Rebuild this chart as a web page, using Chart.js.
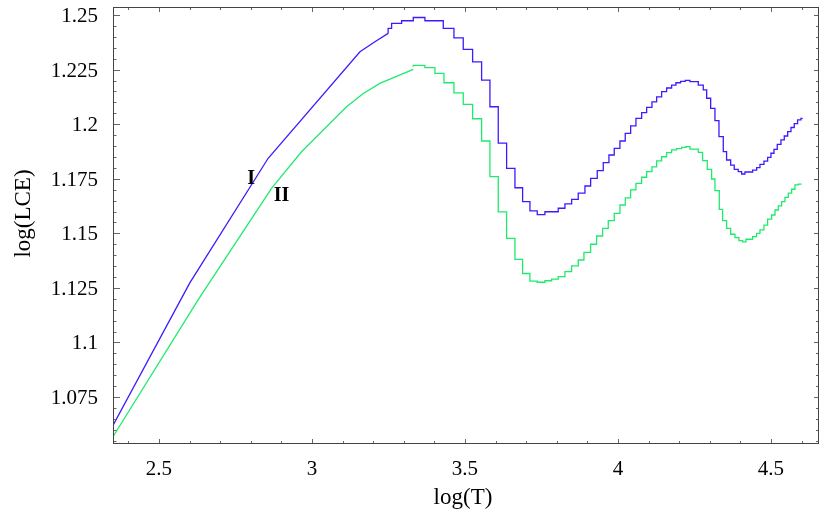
<!DOCTYPE html>
<html>
<head>
<meta charset="utf-8">
<script src="https://cdn.jsdelivr.net/npm/chart.js@4/dist/chart.umd.min.js"></script>
<style>
  html, body { margin: 0; padding: 0; background: #fff; }
</style>
</head>
<body>
<canvas id="lceChart" width="830" height="513"></canvas>
<script>
// curve I (blue): smooth start, then the staircase part
const curveISmoothX = [2.347, 2.601, 2.857, 3.157, 3.206, 3.249];
const curveISmoothY = [1.0612, 1.1273, 1.1844, 1.2332, 1.2378, 1.2416];
const curveIStepX = [3.249, 3.2604, 3.2931, 3.3312, 3.3693, 3.4292, 3.4641, 3.4945, 3.5251, 3.5545,
  3.5817, 3.6089, 3.6362, 3.6634, 3.6885, 3.7124, 3.7363, 3.7614, 3.8049, 3.8268,
  3.8487, 3.8703, 3.8922, 3.9108, 3.9324, 3.9520, 3.9706, 3.9879, 4.0065, 4.0238,
  4.0415, 4.0588, 4.0774, 4.0938, 4.1111, 4.1265, 4.1428, 4.1591, 4.1754, 4.1895,
  4.2049, 4.2200, 4.2353, 4.2625, 4.2788, 4.2899, 4.3030, 4.3170, 4.3301, 4.3442,
  4.3550, 4.3683, 4.3801, 4.3931, 4.4042, 4.4150, 4.4402, 4.4533, 4.4641, 4.4771,
  4.4892, 4.5000, 4.5098, 4.5206, 4.5327, 4.5435, 4.5546, 4.5654, 4.5761, 4.5870,
  4.5980, 4.6036];
const curveIStepY = [1.2416, 1.2439, 1.2462, 1.2474, 1.2489, 1.2474, 1.2439, 1.2396, 1.2343, 1.2286,
  1.2202, 1.2080, 1.1913, 1.1798, 1.1709, 1.1645, 1.1603, 1.1586, 1.1599, 1.1615,
  1.1635, 1.1656, 1.1684, 1.1717, 1.1752, 1.1787, 1.1824, 1.1859, 1.1889, 1.1923,
  1.1958, 1.1992, 1.2027, 1.2053, 1.2077, 1.2102, 1.2125, 1.2149, 1.2166, 1.2179,
  1.2190, 1.2196, 1.2201, 1.2195, 1.2179, 1.2157, 1.2119, 1.2073, 1.2016, 1.1943,
  1.1874, 1.1836, 1.1813, 1.1793, 1.1783, 1.1772, 1.1781, 1.1790, 1.1801, 1.1816,
  1.1831, 1.1848, 1.1867, 1.1885, 1.1908, 1.1928, 1.1946, 1.1966, 1.1985, 1.2003,
  1.2020, 1.2027];

// curve II (green)
const curveIISmoothX = [2.347, 2.628, 2.868, 2.966, 3.113, 3.168, 3.222, 3.331];
const curveIISmoothY = [1.0562, 1.1195, 1.1706, 1.1874, 1.2080, 1.2141, 1.2187, 1.2251];
const curveIIStepX = [3.331, 3.3693, 3.4020, 3.4314, 3.4641, 3.4945, 3.5251, 3.5545, 3.5817, 3.6089,
  3.6362, 3.6634, 3.6885, 3.7124, 3.7363, 3.7614, 3.7833, 3.8050, 3.8268, 3.8486,
  3.8704, 3.8889, 3.9107, 3.9303, 3.9499, 3.9684, 3.9880, 4.0065, 4.0240, 4.0414,
  4.0588, 4.0773, 4.0937, 4.1111, 4.1264, 4.1427, 4.1590, 4.1754, 4.1917, 4.2081,
  4.2222, 4.2353, 4.2625, 4.2767, 4.2919, 4.3061, 4.3170, 4.3312, 4.3420, 4.3551,
  4.3682, 4.3824, 4.3954, 4.4074, 4.4183, 4.4401, 4.4531, 4.4641, 4.4771, 4.4891,
  4.5022, 4.5131, 4.5240, 4.5349, 4.5458, 4.5567, 4.5675, 4.5784, 4.5893, 4.6002];
const curveIIStepY = [1.2263, 1.2270, 1.2259, 1.2233, 1.2190, 1.2144, 1.2091, 1.2025, 1.1923, 1.1760,
  1.1598, 1.1477, 1.1381, 1.1316, 1.1281, 1.1276, 1.1283, 1.1290, 1.1302, 1.1325,
  1.1351, 1.1378, 1.1413, 1.1450, 1.1488, 1.1523, 1.1558, 1.1592, 1.1630, 1.1663,
  1.1699, 1.1729, 1.1757, 1.1783, 1.1805, 1.1832, 1.1851, 1.1870, 1.1882, 1.1888,
  1.1894, 1.1897, 1.1886, 1.1871, 1.1833, 1.1793, 1.1749, 1.1696, 1.1610, 1.1558,
  1.1523, 1.1496, 1.1480, 1.1467, 1.1461, 1.1473, 1.1485, 1.1500, 1.1516, 1.1538,
  1.1565, 1.1584, 1.1607, 1.1626, 1.1645, 1.1665, 1.1684, 1.1702, 1.1722, 1.1726];

// curve labels, placed in data coordinates
const curveLabels = [
  { text: 'I', x: 2.801, y: 1.1750 },
  { text: 'II', x: 2.901, y: 1.1670 }
];

const BLUE = '#3a1cff';
const GREEN = '#1fea6c';
const SERIF = '"Liberation Serif", "Times New Roman", serif';

function pts(xs, ys) {
  return xs.map((x, i) => ({ x: x, y: ys[i] }));
}

const fmt = v => String(+v.toFixed(3));

// frame on all four sides with inward ticks, tick labels and titles
const framePlugin = {
  id: 'frame',
  afterDatasetsDraw(chart) {
    const { ctx, chartArea: a, scales: { x, y } } = chart;
    ctx.save();

    // axis titles first
    ctx.fillStyle = '#000';
    ctx.font = '23px ' + SERIF;
    ctx.textAlign = 'center';
    ctx.textBaseline = 'alphabetic';
    ctx.fillText('log(T)', 463, 504);
    ctx.save();
    ctx.translate(30, 213.5);
    ctx.rotate(-Math.PI / 2);
    ctx.fillText('log(LCE)', 0, 0);
    ctx.restore();

    ctx.strokeStyle = '#666';
    ctx.lineWidth = 1;
    ctx.beginPath();
    for (let k = Math.ceil(x.min / 0.1 - 1e-9); k * 0.1 <= x.max + 1e-9; k++) {
      const v = k * 0.1;
      const major = Math.abs(v / 0.5 - Math.round(v / 0.5)) < 1e-6;
      const len = major ? 5 : 3;
      const px = Math.round(x.getPixelForValue(v)) + 0.5;
      ctx.moveTo(px, a.bottom); ctx.lineTo(px, a.bottom - len);
      ctx.moveTo(px, a.top); ctx.lineTo(px, a.top + len);
    }
    for (let k = Math.ceil(y.min / 0.005 - 1e-9); k * 0.005 <= y.max + 1e-9; k++) {
      const v = k * 0.005;
      const major = Math.abs(v / 0.025 - Math.round(v / 0.025)) < 1e-6;
      const py = Math.round(y.getPixelForValue(v)) + 0.5;
      ctx.moveTo(a.left, py); ctx.lineTo(a.left + (major ? 7 : 3.5), py);
      ctx.moveTo(a.right, py); ctx.lineTo(a.right - (major ? 5 : 3), py);
    }
    ctx.stroke();
    ctx.strokeStyle = '#444';
    ctx.strokeRect(a.left + 0.5, a.top + 0.5, a.width - 1, a.height - 1);

    // tick labels
    ctx.font = '21px ' + SERIF;
    ctx.textAlign = 'center';
    x.ticks.forEach(t => {
      ctx.fillText(fmt(t.value), x.getPixelForValue(t.value), 475);
    });
    ctx.textAlign = 'right';
    y.ticks.forEach(t => {
      ctx.fillText(fmt(t.value), 98, y.getPixelForValue(t.value) + 7);
    });

    // curve labels
    ctx.font = 'bold 20px ' + SERIF;
    ctx.textAlign = 'center';
    ctx.textBaseline = 'middle';
    curveLabels.forEach(l => {
      ctx.fillText(l.text, x.getPixelForValue(l.x), y.getPixelForValue(l.y));
    });
    ctx.restore();
  }
};

const ctx = document.getElementById('lceChart').getContext('2d');
const lceChart = new Chart(ctx, {
  type: 'line',
  data: {
    datasets: [
      { label: 'I', data: pts(curveISmoothX, curveISmoothY), borderColor: BLUE },
      { label: 'I', data: pts(curveIStepX, curveIStepY), borderColor: BLUE, stepped: 'after' },
      { label: 'II', data: pts(curveIISmoothX, curveIISmoothY), borderColor: GREEN },
      { label: 'II', data: pts(curveIIStepX, curveIIStepY), borderColor: GREEN, stepped: 'after' }
    ]
  },
  options: {
    responsive: false,
    animation: false,
    layout: { padding: { top: 7, right: 11, left: 113, bottom: 69 } },
    elements: {
      point: { radius: 0 },
      line: { borderWidth: 1.3, tension: 0, fill: false }
    },
    plugins: {
      legend: { display: false },
      tooltip: { enabled: false }
    },
    scales: {
      x: {
        type: 'linear',
        display: false,
        min: 2.35,
        max: 4.657,
        ticks: { stepSize: 0.5, includeBounds: false }
      },
      y: {
        type: 'linear',
        display: false,
        min: 1.0535,
        max: 1.2537,
        ticks: { stepSize: 0.025, includeBounds: false }
      }
    }
  },
  plugins: [framePlugin]
});
</script>
</body>
</html>
